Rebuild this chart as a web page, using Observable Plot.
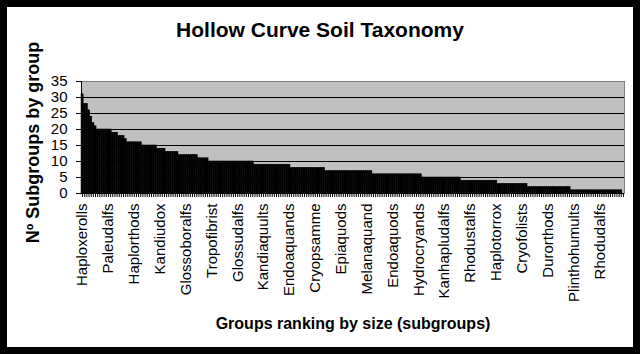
<!DOCTYPE html>
<html><head><meta charset="utf-8">
<script src="https://cdn.jsdelivr.net/npm/d3@7"></script>
<script src="https://cdn.jsdelivr.net/npm/@observablehq/plot@0.6"></script>
<style>
html,body{margin:0;padding:0;background:#000;width:640px;height:354px;overflow:hidden}
#panel{position:absolute;left:7px;top:7px;width:626px;height:340px;background:#fff}
#chart{position:absolute;left:0;top:0}
#title{position:absolute;left:0;top:18px;width:640px;text-align:center;font:bold 21px Arial,"Liberation Sans",sans-serif;color:#000}
</style></head>
<body>
<div id="panel"></div>
<div id="chart"></div>
<div id="title">Hollow Curve Soil Taxonomy</div>
<script>
// Number of subgroups per great group, ranked by size (252 groups)
const subgroups = [
  31,28,28,26,24,22,21,
  20,20,20,20,20,20,20,
  19,19,19,
  18,18,18,
  17,
  16,16,16,16,16,16,16,
  15,15,15,15,15,15,15,
  14,14,14,14,
  13,13,13,13,13,13,
  12,12,12,12,12,12,12,12,12,
  11,11,11,11,11,
  10,10,10,10,10,10,10,10,10,10, 10,10,10,10,10,10,10,10,10,10, 10,
  9,9,9,9,9,9,9,9,9,9, 9,9,9,9,9,9,9,
  8,8,8,8,8,8,8,8,8,8, 8,8,8,8,8,8,
  7,7,7,7,7,7,7,7,7,7, 7,7,7,7,7,7,7,7,7,7, 7,7,
  6,6,6,6,6,6,6,6,6,6, 6,6,6,6,6,6,6,6,6,6, 6,6,6,
  5,5,5,5,5,5,5,5,5,5, 5,5,5,5,5,5,5,5,
  4,4,4,4,4,4,4,4,4,4, 4,4,4,4,4,4,4,
  3,3,3,3,3,3,3,3,3,3, 3,3,3,3,
  2,2,2,2,2,2,2,2,2,2, 2,2,2,2,2,2,2,2,2,2,
  1,1,1,1,1,1,1,1,1,1, 1,1,1,1,1,1,1,1,1,1, 1,1,1,1,
  0
];
// Group names shown on the axis (every 12th group)
const groupLabels = ["Haploxerolls","Paleudalfs","Haplorthods","Kandiudox","Glossoboralfs","Tropofibrist","Glossudalfs","Kandiaquults","Endoaquands","Cryopsamme","Epiaquods","Melanaquand","Endoaquods","Hydrocryands","Kanhapludalfs","Rhodustalfs","Haplotorrox","Cryofolists","Durorthods","Plinthohumults","Rhodudalfs"];
const labelStep = 12;
const yTicks = [0,5,10,15,20,25,30,35];
const gridValues = [5,10,15,20,25,30];
const yTitle = "Nº Subgroups by group";
const xTitle = "Groups ranking by size (subgroups)";

const table = subgroups.map((n, rank) => ({rank, n}));
const ranks = table.map(d => d.rank);

const chart = Plot.plot({
  width: 640, height: 354,
  marginLeft: 81, marginRight: 16, marginTop: 81, marginBottom: 161,
  style: {background: "transparent", fontFamily: "Arial, 'Liberation Sans', sans-serif", color: "#000"},
  x: {type: "band", domain: ranks, padding: 0, axis: null},
  y: {domain: [0, 35], axis: null},
  marks: [
    Plot.frame({fill: "#c0c0c0", stroke: "#808080"}),
    Plot.ruleY(gridValues, {stroke: "#000"}),
    Plot.barY(table, {x: "rank", y: "n", fill: "#000", stroke: "#000", strokeWidth: 0.5}),
    Plot.ruleY([0], {stroke: "#000"}),
    Plot.frame({anchor: "left", stroke: "#000"}),
    Plot.axisY({ticks: yTicks, tickSize: 5, tickPadding: 9, fontSize: 15, label: null}),
    Plot.axisX({ticks: ranks, tickSize: 4, tickPadding: 6, tickRotate: -90, fontSize: 15, label: null,
      tickFormat: i => i % labelStep === 0 ? groupLabels[i / labelStep] : ""}),
    Plot.text([yTitle], {text: d => d, frameAnchor: "left", dx: -48, dy: 5, rotate: -90, textAnchor: "middle", lineAnchor: "middle", fontWeight: "bold", fontSize: 18}),
    Plot.text([xTitle], {text: d => d, frameAnchor: "bottom", dy: 130, textAnchor: "middle", lineAnchor: "middle", fontWeight: "bold", fontSize: 16})
  ]
});
document.getElementById("chart").appendChild(chart);
</script>
</body></html>
